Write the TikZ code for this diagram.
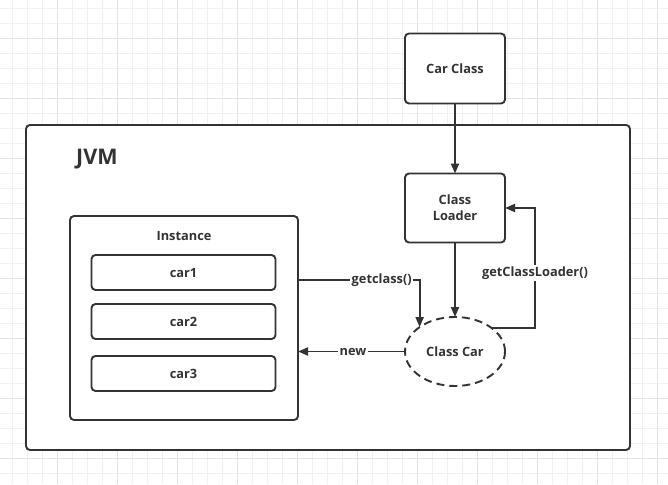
\documentclass[tikz,border=0pt]{standalone}
\usepackage{fontspec}
\setmainfont{Open Sans}
\usetikzlibrary{arrows.meta,shapes.geometric,calc}
\definecolor{ink}{HTML}{333333}
\definecolor{gridminor}{HTML}{F0F0F0}
\definecolor{gridmajor}{HTML}{E3E3E3}
\begin{document}
\begin{tikzpicture}[x=1pt,y=-1pt,
  every node/.style={text=ink, font=\fontsize{12.8}{16}\selectfont\bfseries},
  box/.style={draw=ink, line width=1.9pt, rounded corners=4pt, fill=white, inner sep=0pt, outer sep=0pt, align=center},
  arr/.style={draw=ink, line width=1.9pt, -{Triangle[length=10pt,width=8pt]}},
  lbl/.style={fill=white, inner sep=1.5pt}]
\useasboundingbox (0,0) rectangle (668,484);
\fill[white] (0,0) rectangle (668,484);
% grid
\foreach \i in {0,...,44} {\draw[gridminor, line width=1pt] (12.7+15*\i,0) -- (12.7+15*\i,484);}
\foreach \i in {0,...,32} {\draw[gridminor, line width=1pt] (0,8.3+15*\i) -- (668,8.3+15*\i);}
\foreach \i in {0,...,10} {\draw[gridmajor, line width=1pt] (57.7+60*\i,0) -- (57.7+60*\i,484);}
\foreach \i in {0,...,7} {\draw[gridmajor, line width=1pt] (0,38.3+60*\i) -- (668,38.3+60*\i);}
% boxes
\node[box, minimum width=604, minimum height=325] (jvm) at (328,287.5) {};
\node[anchor=west, inner sep=0pt, font=\fontsize{21.5}{24}\selectfont\bfseries] (jvmlbl) at (76,159.5) {JVM};
\node[box, minimum width=100, minimum height=70] (carclass) at (455,68.5) {Car Class};
\node[box, minimum width=100, minimum height=69] (loader) at (455,208) {Class\\Loader};
\node[draw=ink, line width=1.9pt, dash pattern=on 8pt off 5pt, ellipse, fill=white, inner sep=0pt, outer sep=0pt, minimum width=100, minimum height=69] (classcar) at (455,351.5) {Class Car};
\node[box, minimum width=228, minimum height=204] (inst) at (184,318) {};
\node (instlbl) at (184,236) {Instance};
\node[box, minimum width=184, minimum height=35] (car1) at (183.5,272.5) {car1};
\node[box, minimum width=184, minimum height=35] (car2) at (183.5,321.5) {car2};
\node[box, minimum width=184, minimum height=35] (car3) at (183.5,373.5) {car3};
% connectors
\draw[arr] (carclass.south) -- (loader.north);
\draw[arr] (loader.south) -- (classcar.north);
\draw[arr] ($(inst.east)+(0,-38)$) -| node[lbl, pos=0.344] (lgetclass) {getclass()} (classcar.north west);
\draw[arr] (classcar.west) -- node[lbl, pos=0.486] (lnew) {new} (classcar.west -| inst.east);
\coordinate (gclcorner) at ($(loader.east)+(30,0)$);
\draw[arr] (classcar.33) -| node[lbl, pos=0.73] (lgcl) {getClassLoader()} (gclcorner) -- (loader.east);
\end{tikzpicture}
\end{document}
